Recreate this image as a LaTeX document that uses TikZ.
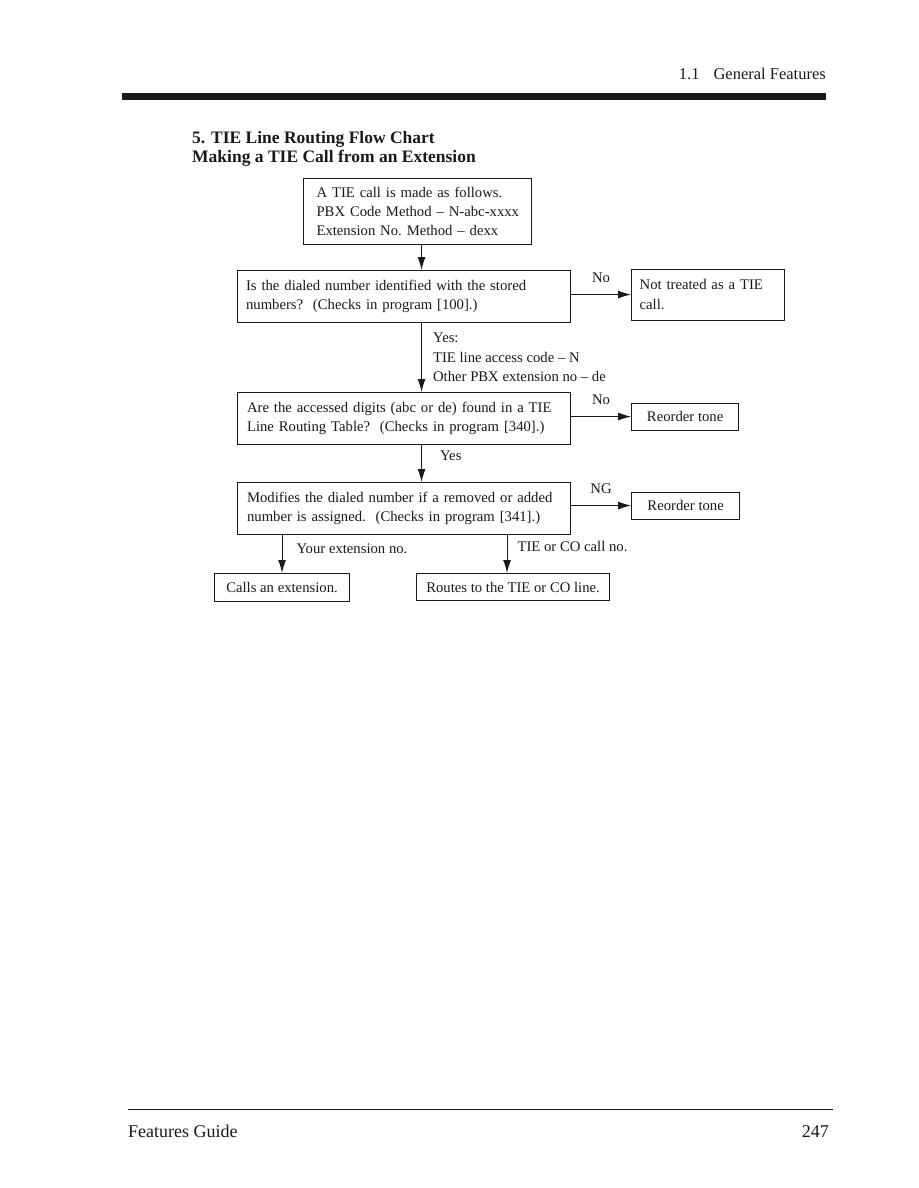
\documentclass[tikz,border=0pt]{standalone}
\usepackage{fontspec}
\setmainfont{Liberation Serif}
\usetikzlibrary{positioning,arrows.meta,calc}
\definecolor{fcInk}{HTML}{1A1A1A}
\definecolor{fcWhite}{HTML}{FFFFFF}
\newcommand\fcfont{\fontsize{14.7}{19.3}\selectfont\frenchspacing}
\newcommand\fcheadfont{\fontsize{16.5}{20}\selectfont}
\newcommand\fcfootfont{\fontsize{18}{22}\selectfont}
\tikzset{
  fc-box/.style={
    draw=fcInk, line width=1.1pt, fill=fcWhite, font=\fcfont,
    text=fcInk, align=left, inner ysep=3pt
  },
  fc-wide/.style={fc-box, anchor=north west, text width=320pt,
    inner xsep=6.5pt, minimum height=52pt},
  fc-tone/.style={fc-box, align=center, minimum width=107pt,
    minimum height=27pt, inner xsep=2pt},
  fc-end/.style={fc-box, anchor=north west, align=center,
    minimum height=28pt, inner xsep=2pt},
  fc-flow/.style={-{Latex[length=13pt,width=8pt]}, line width=1.1pt,
    draw=fcInk},
  fc-label/.style={font=\fcfont, text=fcInk, inner sep=0pt, align=left},
  fc-head/.style={font=\fcheadfont, text=fcInk, inner sep=0pt},
  fc-foot/.style={font=\fcfootfont, text=fcInk, inner sep=0pt},
  fc-title/.style={font=\fontsize{17.5}{20}\selectfont\bfseries,
    text=fcInk, inner sep=0pt}
}
\begin{document}
\begin{tikzpicture}[x=1pt, y=-1pt]
\useasboundingbox[fill=fcWhite] (0,0) rectangle (918,1188);

% page header and footer
\node[fc-head, anchor=base east] (head) at (826,80)
  {1.1\hspace{14pt}General Features};
\draw[fcInk, line width=6.5pt] (122,96.5) -- (826,96.5);
\node[fc-title, anchor=base west] (title) at (192,143)
  {5. TIE Line Routing Flow Chart};
\node[fc-title, anchor=base west] (subtitle) at (192,162)
  {Making a TIE Call from an Extension};
\draw[fcInk, line width=1pt] (128,1109) -- (833,1109);
\node[fc-foot, anchor=base west] (guide) at (128,1137) {Features Guide};
\node[fc-foot, anchor=base east] (page) at (829,1137) {247};

% flow chart
\node[fc-box, anchor=north west, text width=212pt, inner xsep=8pt,
  minimum height=66pt] (start) at (303,178)
  {\hspace{5pt}A TIE call is made as follows.\\
  \hspace{5pt}PBX Code Method -- N-abc-xxxx\\
  \hspace{5pt}Extension No. Method -- dexx};
\node[fc-wide] (check) at (237,270)
  {\hspace{2pt}Is the dialed number identified with the stored\\
  \hspace{2pt}numbers?\ \ (Checks in program [100].)};
\node[fc-box, right=60pt of check, yshift=2pt, text width=141pt,
  inner xsep=6pt, minimum height=51pt] (notie)
  {\hspace{2pt}Not treated as a TIE\\ \hspace{2pt}call.};

\node[fc-wide] (table) at (237,392)
  {\hspace{3pt}Are the accessed digits (abc or de) found in a TIE\\
  \hspace{3pt}Line Routing Table?\ \ (Checks in program [340].)};
\node[fc-tone, right=60pt of table, yshift=2pt] (tone1) {Reorder tone};

\node[fc-wide] (modify) at (237,482)
  {\hspace{3pt}Modifies the dialed number if a removed or added\\
  \hspace{3pt}number is assigned.\ \ (Checks in program [341].)};
\node[fc-tone, right=60pt of modify, yshift=3pt, minimum width=108pt]
  (tone2) {Reorder tone};

\node[fc-end, minimum width=135pt] (ext) at (214,573) {Calls an extension.};
\node[fc-end, minimum width=193pt, minimum height=27pt] (route) at (416,573)
  {Routes to the TIE or CO line.};

\draw[fc-flow] ([xshift=4pt]start.south) --
  ([xshift=4pt]start.south |- check.north);
\draw[fc-flow] (check.east |- notie.west) --
  node[fc-label, above=11pt]{No} (notie.west);
\draw[fc-flow] ([xshift=17.5pt]check.south) --
  node[fc-label, right=11pt]{Yes:\\ TIE line access code -- N\\
  Other PBX extension no -- de}
  ([xshift=17.5pt]check.south |- table.north);
\draw[fc-flow] (table.east |- tone1.west) --
  node[fc-label, above=11pt]{No} (tone1.west);
\draw[fc-flow] ([xshift=17.5pt]table.south) --
  node[fc-label, right=18pt, pos=0.3]{Yes}
  ([xshift=17.5pt]table.south |- modify.north);
\draw[fc-flow] (modify.east |- tone2.west) --
  node[fc-label, above=11pt]{NG} (tone2.west);
\draw[fc-flow] (ext.north |- modify.south) --
  node[fc-label, right=14pt, pos=0.35]{Your extension no.} (ext.north);
\draw[fc-flow] ([xshift=-6pt]route.north |- modify.south) --
  node[fc-label, right=10pt, pos=0.3]{TIE or CO call no.}
  ([xshift=-6pt]route.north);
\end{tikzpicture}
\end{document}
